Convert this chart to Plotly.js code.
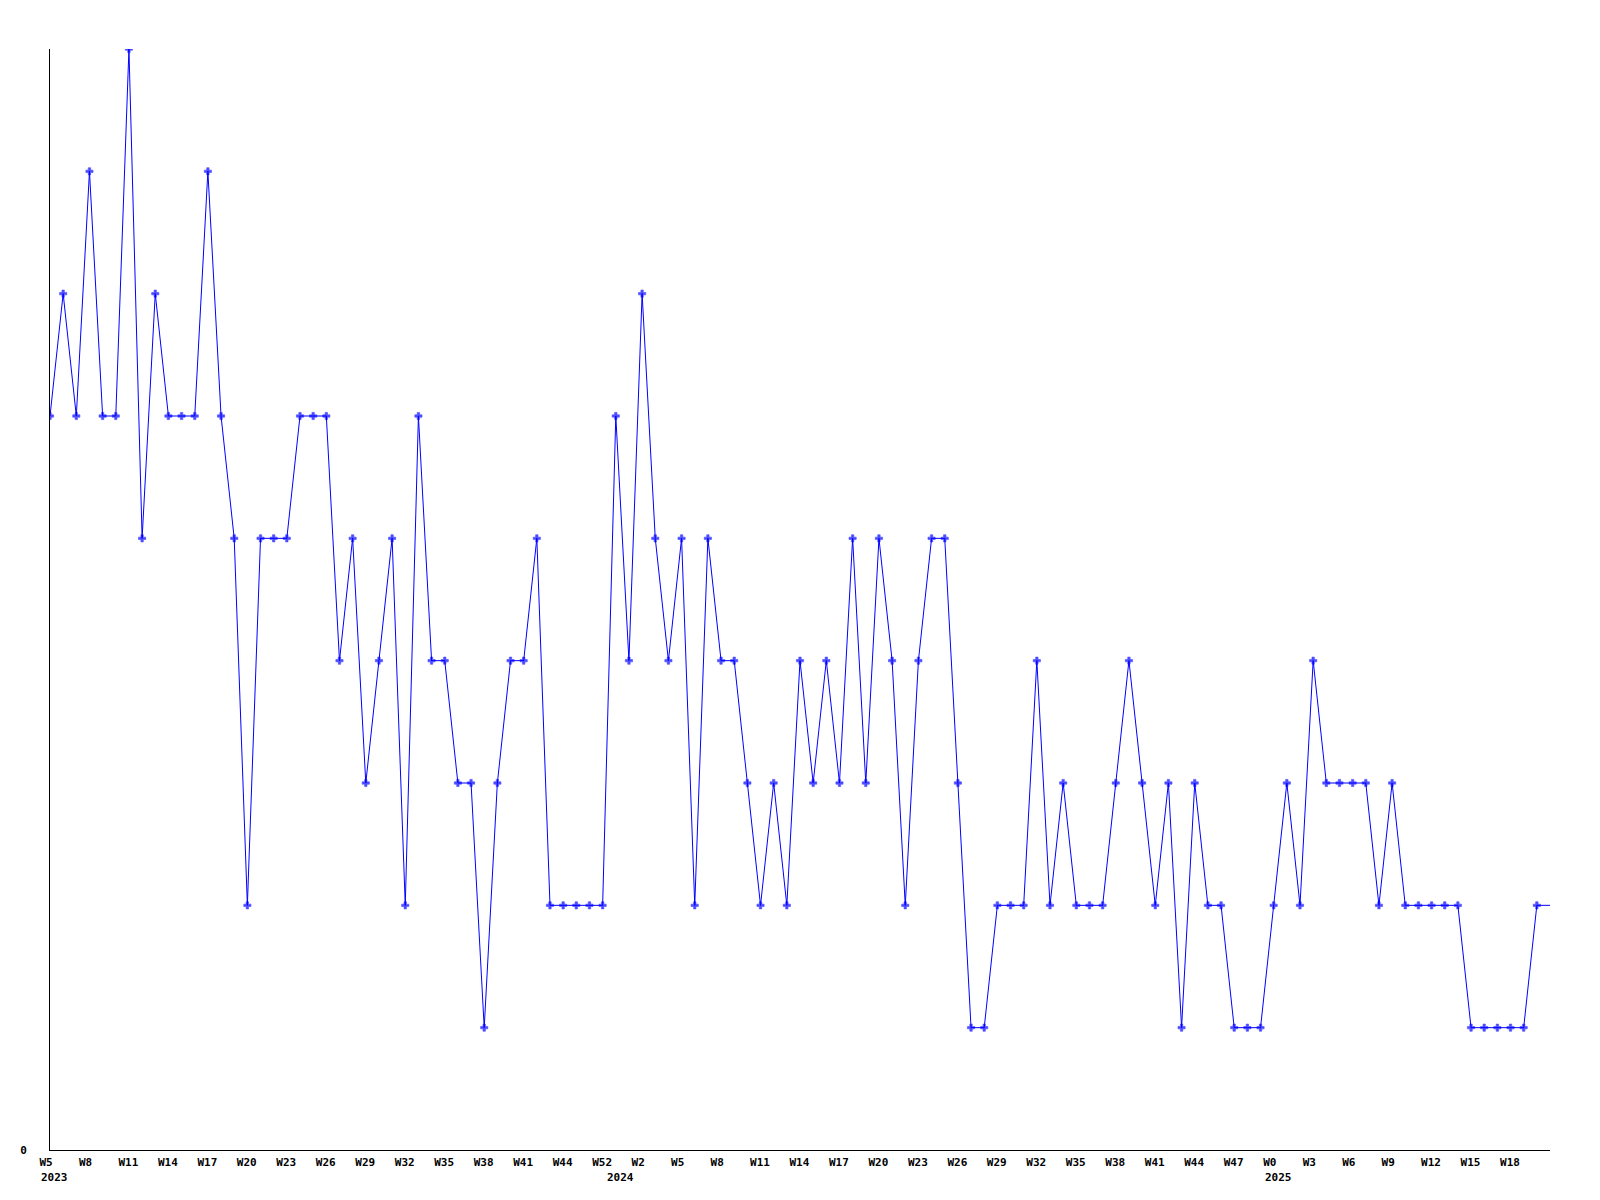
<!DOCTYPE html>
<html>
<head>
<meta charset="utf-8">
<script src="https://cdn.plot.ly/plotly-3.0.1.min.js"></script>
<style>
  html, body { margin: 0; padding: 0; background: #fff; }
  #chart { width: 1600px; height: 1200px; }
</style>
</head>
<body>
<div id="chart"></div>
<script>
// Weekly values (one per week, in order); the last one is the current, unmarked week
const values = [
  6, 7, 6, 8, 6, 6, 9, 5, 7, 6,
  6, 6, 8, 6, 5, 2, 5, 5, 5, 6,
  6, 6, 4, 5, 3, 4, 5, 2, 6, 4,
  4, 3, 3, 1, 3, 4, 4, 5, 2, 2,
  2, 2, 2, 6, 4, 7, 5, 4, 5, 2,
  5, 4, 4, 3, 2, 3, 2, 4, 3, 4,
  3, 5, 3, 5, 4, 2, 4, 5, 5, 3,
  1, 1, 2, 2, 2, 4, 2, 3, 2, 2,
  2, 3, 4, 3, 2, 3, 1, 3, 2, 2,
  1, 1, 1, 2, 3, 2, 4, 3, 3, 3,
  3, 2, 3, 2, 2, 2, 2, 2, 1, 1,
  1, 1, 1, 2, 2
];

// Week tick labels (every third week)
const weekTicks = [
  "W5", "W8", "W11", "W14", "W17", "W20", "W23", "W26", "W29", "W32",
  "W35", "W38", "W41", "W44", "W52", "W2", "W5", "W8", "W11", "W14",
  "W17", "W20", "W23", "W26", "W29", "W32", "W35", "W38", "W41", "W44",
  "W47", "W0", "W3", "W6", "W9", "W12", "W15", "W18"
];
// Year labels, placed at the first week of each year (index into values)
const years = ["2023", "2024", "2025"];
const yearStartIndex = [0, 43, 93];

const xIdx = values.map((_, i) => i);
const tickStep = 3;
const tickvals = weekTicks.map((_, i) => i * tickStep);
const markerSizes = values.map((_, i) => (i < values.length - 1 ? 6 : 0));

const font = { family: "DejaVu Sans Mono, monospace", size: 11, color: "#000000", weight: 700 };

const trace = {
  type: "scatter",
  mode: "lines+markers",
  x: xIdx,
  y: values,
  line: { color: "#0000ff", width: 1 },
  marker: { color: "#0000ff", size: markerSizes, symbol: "cross", line: { color: "#0000ff", width: 0.6 } },
  hoverinfo: "skip",
  cliponaxis: true
};

const annotations = years.map((yr, i) => ({
  text: yr,
  x: yearStartIndex[i],
  xref: "x",
  xanchor: "left",
  xshift: -11,
  y: 0,
  yref: "paper",
  yanchor: "middle",
  yshift: -27,
  showarrow: false,
  font: font
}));

const layout = {
  width: 1600,
  height: 1200,
  margin: { l: 50, r: 50, t: 49, b: 50, pad: 0 },
  paper_bgcolor: "#ffffff",
  plot_bgcolor: "#ffffff",
  showlegend: false,
  font: font,
  annotations: annotations,
  xaxis: {
    type: "linear",
    range: [0, 114],
    tickmode: "array",
    tickvals: tickvals,
    ticktext: weekTicks,
    ticks: "",
    showgrid: false,
    zeroline: false,
    showline: true,
    linecolor: "#000000",
    linewidth: 1,
    ticklabelposition: "outside right",
    ticklabelshift: -11,
    ticklabelstandoff: 2,
    tickfont: font
  },
  yaxis: {
    range: [0, 9],
    tickmode: "array",
    tickvals: [0],
    ticktext: ["0"],
    ticks: "",
    showgrid: false,
    zeroline: false,
    showline: true,
    linecolor: "#000000",
    linewidth: 1,
    ticklabelstandoff: 20,
    tickfont: font
  }
};

Plotly.newPlot("chart", [trace], layout, { staticPlot: true, displayModeBar: false });
</script>
</body>
</html>
